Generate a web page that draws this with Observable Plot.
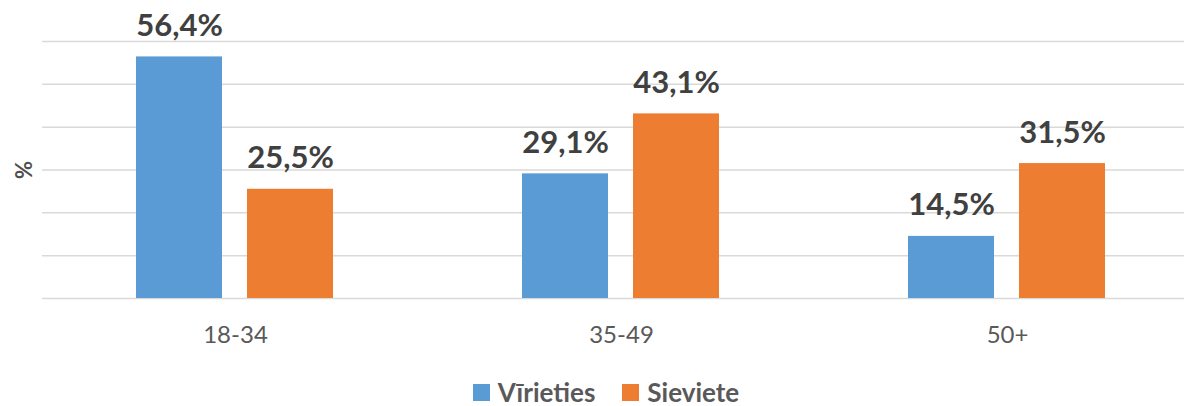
<!DOCTYPE html>
<html>
<head>
<meta charset="utf-8">
<script src="https://cdn.jsdelivr.net/npm/d3@7"></script>
<script src="https://cdn.jsdelivr.net/npm/@observablehq/plot@0.6"></script>
<style>
  html, body { margin: 0; padding: 0; background: #fff; overflow: hidden; }
  #chart svg { display: block; }
  .legend { display: flex; justify-content: center; align-items: center; height: 34px; margin-top: 3px; font-family: Lato, "Open Sans", sans-serif; font-weight: bold; font-size: 26px; color: #595959; gap: 27px; margin-left: 28px; }
  .legend .item { display: flex; align-items: center; gap: 8px; }
  .legend .sw { width: 17px; height: 17px; display: inline-block; }
</style>
</head>
<body>
<div id="chart"></div>
<div class="legend" id="legend"></div>
<script>
const groups = ["18-34", "35-49", "50+"];
const series = ["Vīrieties", "Sieviete"];
const men = [56.4, 29.1, 14.5];
const women = [25.5, 43.1, 31.5];
const colors = ["#5B9BD5", "#ED7D31"];
const gridValues = [0, 10, 20, 30, 40, 50, 60];

const data = [];
groups.forEach((g, i) => {
  data.push({group: g, series: series[0], value: men[i]});
  data.push({group: g, series: series[1], value: women[i]});
});
const fmt = v => v.toFixed(1).replace(".", ",") + "%";

const plot = Plot.plot({
  width: 1184,
  height: 372,
  marginLeft: 42,
  marginRight: -16,
  marginTop: 41,
  marginBottom: 74,
  style: {fontFamily: "Lato, 'Open Sans', sans-serif", background: "#fff"},
  fx: {domain: groups, padding: 0, label: null},
  x: {domain: series, paddingInner: 0.225, paddingOuter: 0.85, axis: null},
  y: {domain: [0, 60]},
  color: {domain: series, range: colors},
  marks: [
    Plot.ruleY(gridValues, {stroke: "#D9D9D9", strokeWidth: 1.5}),
    Plot.barY(data, {fx: "group", x: "series", y: "value", fill: "series"}),
    Plot.text(data, {fx: "group", x: "series", y: "value", text: d => fmt(d.value),
      lineAnchor: "bottom", dy: -21, fontSize: 31, fontWeight: "bold", fill: "#404040"}),
    Plot.axisY({ticks: [], label: "%", labelAnchor: "center", labelArrow: "none",
      labelOffset: 26, fontSize: 22, fontWeight: "bold", color: "#505050"}),
    Plot.axisFx({anchor: "bottom", tickSize: 0, tickPadding: 27, fontSize: 24,
      label: null, color: "#595959"})
  ]
});
document.getElementById("chart").appendChild(plot);

const legend = document.getElementById("legend");
series.forEach((s, i) => {
  const item = document.createElement("span");
  item.className = "item";
  const sw = document.createElement("span");
  sw.className = "sw";
  sw.style.background = colors[i];
  const t = document.createElement("span");
  t.textContent = s;
  item.appendChild(sw);
  item.appendChild(t);
  legend.appendChild(item);
});
</script>
</body>
</html>
